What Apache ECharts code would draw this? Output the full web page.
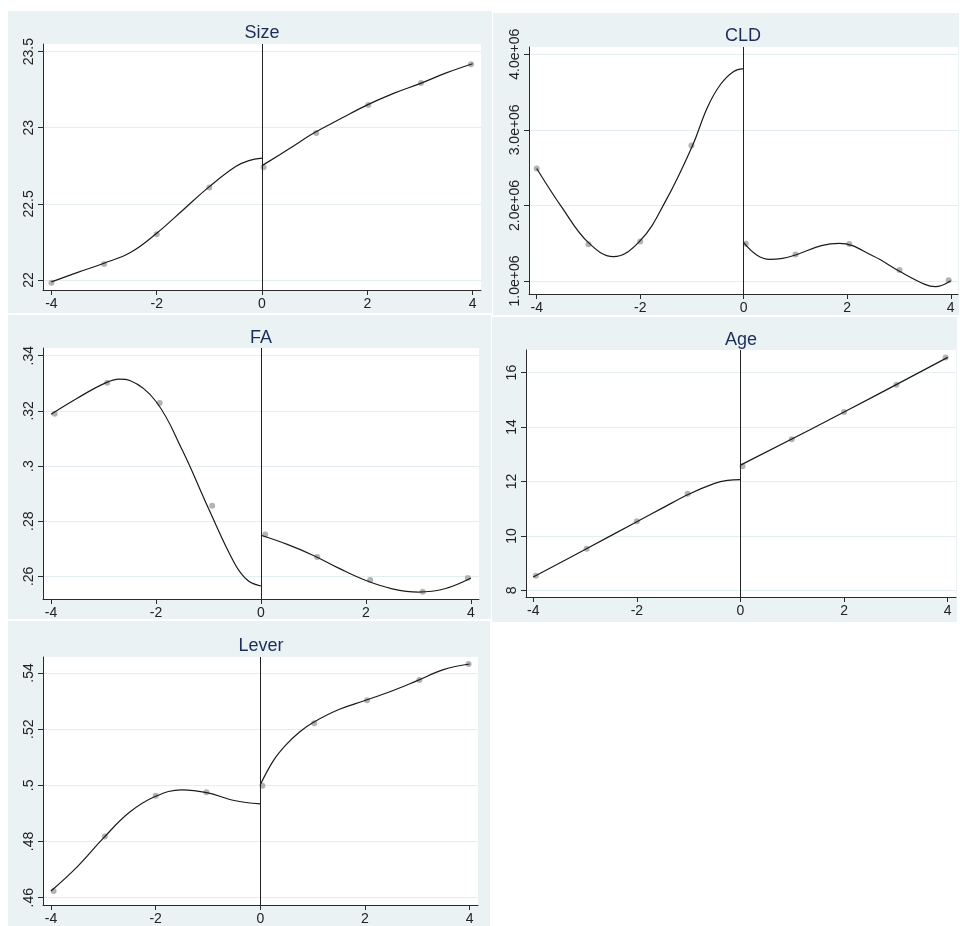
<!DOCTYPE html>
<html>
<head>
<meta charset="utf-8">
<script src="https://cdn.jsdelivr.net/npm/echarts@6/dist/echarts.min.js"></script>
<style>
html,body{margin:0;padding:0;background:#fff;}
#c{width:960px;height:926px;}
</style>
</head>
<body>
<div id="c"></div>
<script>
// ---- tick labels ----
const xTicks = [-4, -2, 0, 2, 4];
const sizeTicks = [22, 22.5, 23, 23.5];
const cldTicks = [1e6, 2e6, 3e6, 4e6];
const faTicks = [0.26, 0.28, 0.3, 0.32, 0.34];
const ageTicks = [8, 10, 12, 14, 16];
const leverTicks = [0.46, 0.48, 0.5, 0.52, 0.54];
const titles = ['Size', 'CLD', 'FA', 'Age', 'Lever'];

// ---- Size ----
const sizeBinX = [-4, -3, -2, -1, 0.03, 1.03, 2.02, 3.02, 3.97];
const sizeBinY = [21.982, 22.105, 22.30, 22.607, 22.74, 22.965, 23.15, 23.294, 23.417];
const sizeLeftX = [-4, -3.5, -3, -2.5, -2, -1.5, -1, -0.5, -0.25, 0];
const sizeLeftY = [21.987, 22.05, 22.11, 22.18, 22.307, 22.46, 22.613, 22.745, 22.784, 22.80];
const sizeRightX = [0, 0.5, 1, 1.5, 2, 2.5, 3, 3.5, 4];
const sizeRightY = [22.751, 22.858, 22.968, 23.06, 23.15, 23.226, 23.29, 23.36, 23.42];

// ---- CLD ----
const cldBinX = [-4, -3, -2, -1.01, 0.04, 1.0, 2.04, 3.01, 3.96];
const cldBinY = [2.489e6, 1.485e6, 1.524e6, 2.793e6, 1.493e6, 1.352e6, 1.489e6, 1.145e6, 1.009e6];
const cldLeftX = [-4, -3.5, -3, -2.52, -2, -1.5, -1, -0.7, -0.45, -0.2, 0];
const cldLeftY = [2.489e6, 1.96e6, 1.507e6, 1.322e6, 1.533e6, 2.07e6, 2.775e6, 3.30e6, 3.60e6, 3.77e6, 3.81e6];
const cldRightX = [0, 0.25, 0.5, 0.75, 1, 1.5, 1.85, 2.5, 3, 3.5, 3.7, 4];
const cldRightY = [1.507e6, 1.344e6, 1.286e6, 1.300e6, 1.344e6, 1.467e6, 1.498e6, 1.33e6, 1.132e6, 0.956e6, 0.925e6, 1.004e6];

// ---- FA ----
const faBinX = [-3.93, -2.93, -1.93, -0.93, 0.08, 1.07, 2.08, 3.08, 3.94];
const faBinY = [0.3190, 0.3302, 0.3229, 0.2856, 0.2752, 0.2670, 0.2587, 0.2544, 0.2594];
const faLeftX = [-4, -3.5, -3, -2.7, -2.5, -2, -1.5, -1, -0.5, -0.25, 0];
const faLeftY = [0.3188, 0.3246, 0.3298, 0.3315, 0.3310, 0.3234, 0.3058, 0.2846, 0.2646, 0.2585, 0.2565];
const faRightX = [0, 0.5, 1, 1.5, 2, 2.5, 3, 3.5, 4];
const faRightY = [0.2749, 0.2716, 0.2676, 0.2628, 0.2585, 0.2555, 0.2543, 0.2555, 0.2594];

// ---- Age ----
const ageBinX = [-3.95, -2.97, -2.0, -1.02, 0.04, 0.99, 2.0, 3.01, 3.96];
const ageBinY = [8.54, 9.53, 10.54, 11.55, 12.56, 13.55, 14.55, 15.55, 16.55];
const ageLeftX = [-4, -3, -2, -1.5, -1, -0.5, -0.25, 0];
const ageLeftY = [8.49, 9.50, 10.52, 11.03, 11.53, 11.93, 12.04, 12.07];
const ageRightX = [0, 2, 4];
const ageRightY = [12.60, 14.55, 16.56];

// ---- Lever ----
const leverBinX = [-3.95, -2.97, -2.0, -1.03, 0.04, 1.03, 2.04, 3.04, 3.98];
const leverBinY = [0.4624, 0.4818, 0.4963, 0.4975, 0.4999, 0.5221, 0.5303, 0.5375, 0.5432];
const leverLeftX = [-4, -3.5, -3, -2.5, -2, -1.5, -1, -0.5, 0];
const leverLeftY = [0.4624, 0.4710, 0.4812, 0.4904, 0.4961, 0.4984, 0.4973, 0.4946, 0.4934];
const leverRightX = [0, 0.25, 0.5, 0.75, 1, 1.5, 2, 2.5, 3, 3.5, 4];
const leverRightY = [0.5002, 0.5088, 0.5146, 0.5190, 0.5223, 0.5270, 0.5302, 0.5335, 0.5373, 0.5412, 0.5432];

const zip = (a, b) => a.map((v, i) => [v, b[i]]);
const noLead = v => String(+v.toFixed(4)).replace(/^0\./, '.');

const panels = [
  {grid:{left:43, top:44, width:438, height:246}, bg:[8,11,484,302], title:[262,24],
   xr:[-4.16,4.16], yr:[21.934,23.55], yt:sizeTicks, fmt:v=>String(v),
   bx:sizeBinX, by:sizeBinY, lx:sizeLeftX, ly:sizeLeftY, rx:sizeRightX, ry:sizeRightY},
  {grid:{left:529, top:47, width:429, height:247}, bg:[493,13,466,302], title:[743,27],
   xr:[-4.149,4.14], yr:[0.828e6,4.096e6], yt:cldTicks, fmt:v=>(v/1e6).toFixed(1)+'e+06',
   bx:cldBinX, by:cldBinY, lx:cldLeftX, ly:cldLeftY, rx:cldRightX, ry:cldRightY},
  {grid:{left:43, top:348, width:436, height:251}, bg:[8,315,483,304], title:[261,329],
   xr:[-4.153,4.153], yr:[0.2518,0.3428], yt:faTicks, fmt:noLead,
   bx:faBinX, by:faBinY, lx:faLeftX, ly:faLeftY, rx:faRightX, ry:faRightY},
  {grid:{left:526, top:350, width:430, height:247}, bg:[492,317,465,305], title:[741,331],
   xr:[-4.14,4.16], yr:[7.755,16.83], yt:ageTicks, fmt:v=>String(v),
   bx:ageBinX, by:ageBinY, lx:ageLeftX, ly:ageLeftY, rx:ageRightX, ry:ageRightY},
  {grid:{left:43, top:657, width:435, height:250}, bg:[8,621,482,305], title:[261,637],
   xr:[-4.153,4.16], yr:[0.4574,0.5457], yt:leverTicks, fmt:noLead,
   bx:leverBinX, by:leverBinY, lx:leverLeftX, ly:leverLeftY, rx:leverRightX, ry:leverRightY}
];

const FONT = 'Liberation Sans, Arial, sans-serif';
const axisCol = '#2b2b2b';

const option = {
  animation: false,
  backgroundColor: '#ffffff',
  graphic: panels.map(p => ({
    type: 'rect', z: -10, silent: true,
    shape: {x: p.bg[0], y: p.bg[1], width: p.bg[2], height: p.bg[3]},
    style: {fill: '#eaf2f3'}
  })),
  title: panels.map((p, i) => ({
    text: titles[i], left: p.title[0], top: p.title[1], textAlign: 'center', padding: 0,
    textStyle: {fontFamily: FONT, fontSize: 18, fontWeight: 'normal', color: '#1c2d5c'}
  })),
  grid: panels.map(p => Object.assign({show: true, backgroundColor: '#ffffff', borderWidth: 0, containLabel: false}, p.grid)),
  xAxis: panels.map((p, i) => ({
    type: 'value', gridIndex: i, min: p.xr[0], max: p.xr[1],
    axisLine: {show: true, onZero: false, lineStyle: {color: axisCol, width: 1}},
    axisTick: {show: true, length: 5, customValues: xTicks, lineStyle: {color: axisCol}},
    axisLabel: {customValues: xTicks, margin: 7, fontFamily: FONT, fontSize: 14, color: '#222', formatter: v => String(v)},
    splitLine: {show: false}
  })),
  yAxis: panels.map((p, i) => ({
    type: 'value', gridIndex: i, min: p.yr[0], max: p.yr[1],
    axisLine: {show: true, onZero: false, lineStyle: {color: axisCol, width: 1}},
    axisTick: {show: true, length: 5, customValues: p.yt, lineStyle: {color: axisCol}},
    axisLabel: {customValues: p.yt, rotate: 90, margin: 7, fontFamily: FONT, fontSize: 14, color: '#222', formatter: p.fmt},
    splitLine: {show: true, lineStyle: {color: '#e4edf0', width: 1}}
  })),
  series: []
};

panels.forEach((p, i) => {
  option.series.push({
    type: 'scatter', xAxisIndex: i, yAxisIndex: i, data: zip(p.bx, p.by),
    symbolSize: 6, itemStyle: {color: '#a0a0a0'}, z: 2, silent: true,
    markLine: {silent: true, symbol: 'none', label: {show: false},
      lineStyle: {color: '#222', width: 1, type: 'solid'}, data: [{xAxis: 0}]}
  });
  option.series.push({
    type: 'line', xAxisIndex: i, yAxisIndex: i, data: zip(p.lx, p.ly),
    smooth: 0.4, showSymbol: false, lineStyle: {color: '#1a1a1a', width: 1.2}, z: 3, silent: true
  });
  option.series.push({
    type: 'line', xAxisIndex: i, yAxisIndex: i, data: zip(p.rx, p.ry),
    smooth: 0.4, showSymbol: false, lineStyle: {color: '#1a1a1a', width: 1.2}, z: 3, silent: true
  });
});

const chart = echarts.init(document.getElementById('c'), null, {renderer: 'canvas'});
chart.setOption(option);
</script>
</body>
</html>
